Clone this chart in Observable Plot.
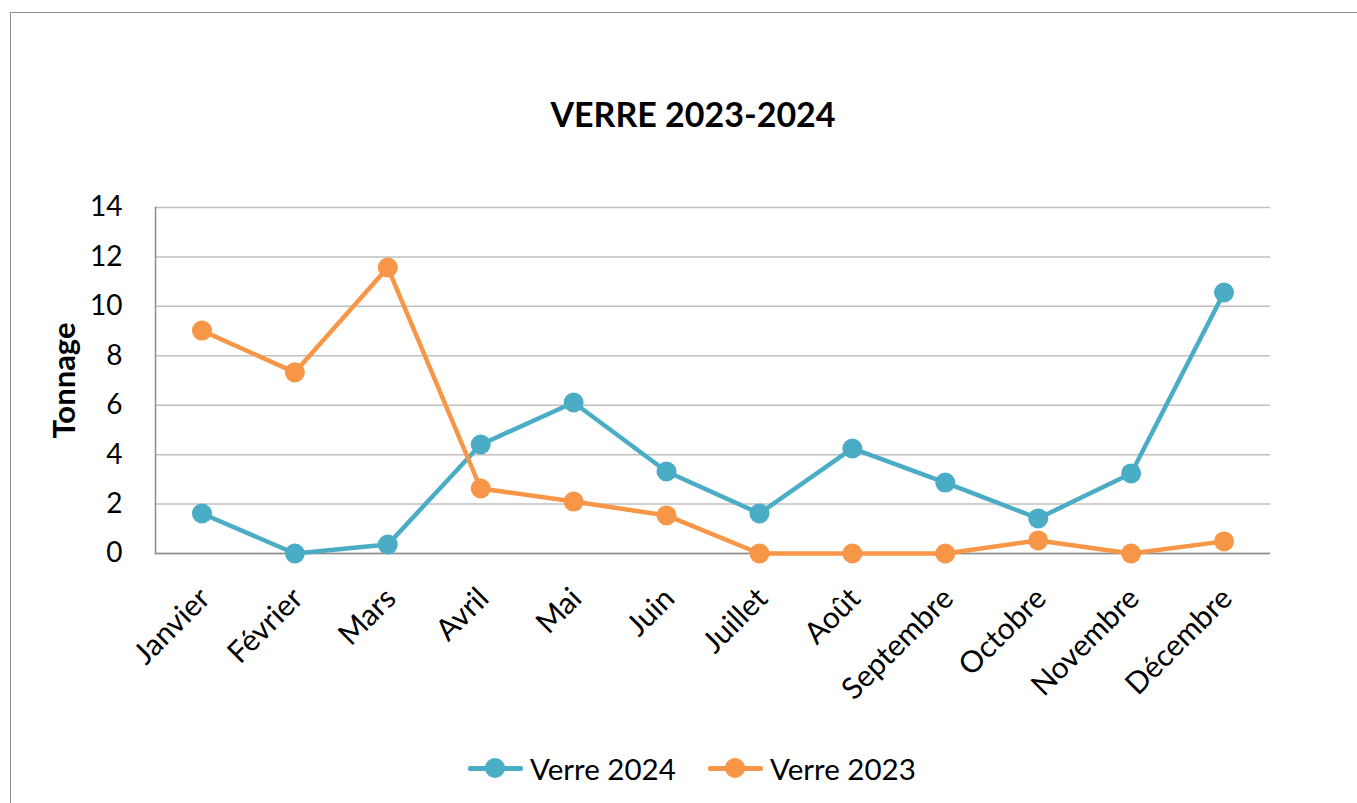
<!DOCTYPE html>
<html>
<head>
<meta charset="utf-8">
<script src="https://cdn.jsdelivr.net/npm/d3@7"></script>
<script src="https://cdn.jsdelivr.net/npm/@observablehq/plot@0.6"></script>
<style>
  html, body { margin: 0; padding: 0; background: #fff; }
  body { width: 1357px; height: 803px; overflow: hidden; position: relative; font-family: Lato, "Open Sans", sans-serif; color: #000; }
  #frame { position: absolute; left: 10px; top: 12px; width: 1400px; height: 900px; border: 1px solid #8c8c8c; box-sizing: border-box; }
  #title { position: absolute; left: 0; top: 94px; width: 1386px; text-align: center; font-weight: bold; font-size: 34px; line-height: 40px; }
  #chart { position: absolute; left: 0; top: 0; }
  #legend { position: absolute; top: 750px; left: 0; width: 1357px; height: 36px; }
  .item { position: absolute; top: 0; height: 36px; display: flex; align-items: center; }
  .sw { position: relative; width: 55px; height: 36px; margin-right: 7px; }
  .sw .ln { position: absolute; left: 0; top: 16px; width: 55px; height: 4.5px; border-radius: 2px; }
  .sw .dt { position: absolute; left: 17px; top: 8px; width: 20px; height: 20px; border-radius: 50%; }
  .lbl { font-size: 29.5px; white-space: nowrap; }
</style>
</head>
<body>
<div id="frame"></div>
<div id="chart"></div>
<div id="title">VERRE 2023-2024</div>
<div id="legend"></div>
<script>
const months = ["Janvier", "Février", "Mars", "Avril", "Mai", "Juin", "Juillet", "Août", "Septembre", "Octobre", "Novembre", "Décembre"];
const verre2024 = [1.62, 0, 0.36, 4.41, 6.11, 3.32, 1.62, 4.25, 2.87, 1.42, 3.24, 10.56];
const verre2023 = [9.02, 7.33, 11.57, 2.63, 2.1, 1.54, 0, 0, 0, 0.53, 0, 0.49];
const seriesNames = ["Verre 2024", "Verre 2023"];
const seriesColors = ["#4BACC6", "#F79646"];
const yTicks = [0, 2, 4, 6, 8, 10, 12, 14];

const table = [
  ...months.map((m, i) => ({month: m, value: verre2024[i], series: seriesNames[0]})),
  ...months.map((m, i) => ({month: m, value: verre2023[i], series: seriesNames[1]}))
];

const chart = Plot.plot({
  width: 1357,
  height: 720,
  marginTop: 207,
  marginLeft: 155,
  marginRight: 87,
  marginBottom: 167,
  style: {fontFamily: "Lato, 'Open Sans', sans-serif", fontSize: "28px", color: "#000", background: "transparent", overflow: "visible"},
  x: {type: "point", domain: months, padding: 0.5, round: false, label: null},
  y: {domain: [0, 14], label: null},
  color: {domain: seriesNames, range: seriesColors},
  marks: [
    Plot.gridY(yTicks, {stroke: "#c0c0c0", strokeOpacity: 1, strokeWidth: 1.5}),
    Plot.frame({anchor: "left", stroke: "#8c8c8c", strokeWidth: 1.5}),
    Plot.ruleY([0], {stroke: "#8c8c8c", strokeWidth: 1.5}),
    Plot.axisY(yTicks, {tickSize: 0, tickPadding: 33, label: null, fontSize: 28}),
    Plot.axisX({tickSize: 0, tickRotate: -45, tickPadding: 40, dx: 3, label: null, fontSize: 30}),
    Plot.text(["Tonnage"], {frameAnchor: "left", dx: -90, rotate: -90, textAnchor: "middle", fontWeight: "bold", fontSize: 31, text: d => d}),
    Plot.line(table, {x: "month", y: "value", z: "series", stroke: "series", strokeWidth: 4.5, strokeLinejoin: "round"}),
    Plot.dot(table, {x: "month", y: "value", fill: "series", r: 10})
  ]
});
document.getElementById("chart").appendChild(chart);

const legend = document.getElementById("legend");
const lefts = [468, 708];
seriesNames.forEach((name, i) => {
  const item = document.createElement("div");
  item.className = "item";
  item.style.left = lefts[i] + "px";
  item.innerHTML = `<div class="sw"><div class="ln" style="background:${seriesColors[i]}"></div><div class="dt" style="background:${seriesColors[i]}"></div></div><div class="lbl">${name}</div>`;
  legend.appendChild(item);
});
</script>
</body>
</html>
